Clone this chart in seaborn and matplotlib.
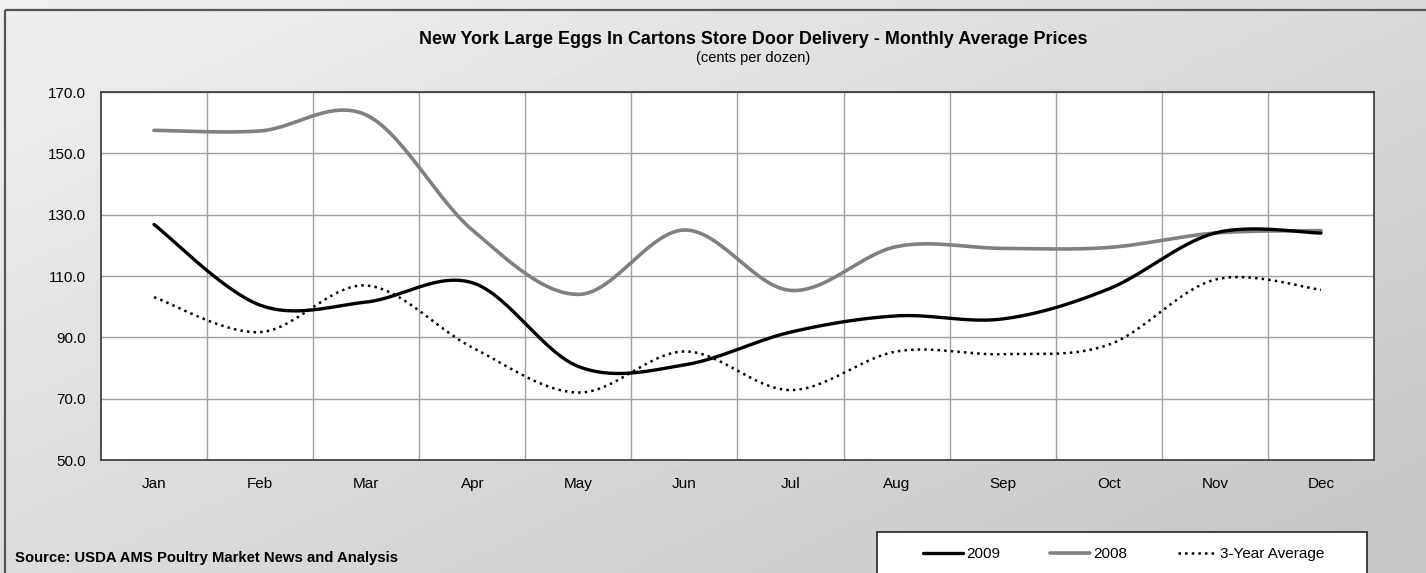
import numpy as np
import pandas as pd
import seaborn as sns
import matplotlib.pyplot as plt
from matplotlib.patches import Rectangle
from matplotlib.lines import Line2D

months = ['Jan', 'Feb', 'Mar', 'Apr', 'May', 'Jun', 'Jul', 'Aug', 'Sep', 'Oct', 'Nov', 'Dec']
y2009 = [126.8, 100.5, 101.5, 107.8, 80.5, 81.0, 91.7, 97.0, 96.0, 105.8, 124.0, 124.0]
y2008 = [157.5, 157.3, 162.5, 125.0, 104.0, 125.0, 105.3, 119.6, 119.0, 119.3, 124.0, 124.8]
avg3 = [103.1, 91.7, 106.9, 86.7, 72.0, 85.4, 72.8, 85.4, 84.5, 87.6, 108.8, 105.5]


def smooth(vals, n=30):
    # excel style smoothed line (catmull-rom bezier through every point)
    p = np.asarray(vals, dtype=float)
    x = np.arange(len(p), dtype=float)
    xs, ys = [], []
    for i in range(len(p) - 1):
        p0 = p[i - 1] if i > 0 else p[i]
        p3 = p[i + 2] if i + 2 < len(p) else p[i + 1]
        x0 = x[i - 1] if i > 0 else x[i]
        x3 = x[i + 2] if i + 2 < len(p) else x[i + 1]
        c1y = p[i] + (p[i + 1] - p0) / 6
        c2y = p[i + 1] - (p3 - p[i]) / 6
        c1x = x[i] + (x[i + 1] - x0) / 6
        c2x = x[i + 1] - (x3 - x[i]) / 6
        t = np.linspace(0, 1, n, endpoint=(i == len(p) - 2))
        b0, b1, b2, b3 = (1 - t) ** 3, 3 * t * (1 - t) ** 2, 3 * t ** 2 * (1 - t), t ** 3
        xs.append(b0 * x[i] + b1 * c1x + b2 * c2x + b3 * x[i + 1])
        ys.append(b0 * p[i] + b1 * c1y + b2 * c2y + b3 * p[i + 1])
    return np.concatenate(xs), np.concatenate(ys)


sns.set_style('white')
plt.rcParams['font.family'] = ['Liberation Sans', 'DejaVu Sans']
plt.rcParams['text.color'] = 'black'
plt.rcParams['xtick.color'] = 'black'
plt.rcParams['ytick.color'] = 'black'

fig = plt.figure(figsize=(14.26, 5.73), dpi=100)
W, H = 1426, 573

# gradient background
bg = fig.add_axes([0, 0, 1, 1], zorder=-10)
gx, gy = np.meshgrid(np.linspace(0, 1, 300), np.linspace(0, 1, 120))
shade = 0.94 - 0.09 * gx - 0.08 * gy
bg.imshow(shade, cmap='gray', vmin=0, vmax=1, aspect='auto', extent=[0, 1, 1, 0])
bg.set_xlim(0, 1)
bg.set_ylim(1, 0)
bg.axis('off')
bg.add_patch(Rectangle((5 / W, 10 / H), 1.2, 1.2, fill=False, edgecolor='#555555', linewidth=1.6))

ax = fig.add_axes([101 / W, (H - 460) / H, 1273 / W, 368 / H])
ax.set_facecolor('white')

for vals, color, lw, ls in [(y2008, '#808080', 2.6, '-'), (y2009, 'black', 2.4, '-'), (avg3, 'black', 1.8, ':')]:
    sx, sy = smooth(vals)
    df = pd.DataFrame({'x': sx, 'y': sy})
    sns.lineplot(data=df, x='x', y='y', ax=ax, color=color, linewidth=lw, linestyle=ls, sort=False)

ax.set_xlim(-0.5, 11.5)
ax.set_ylim(50, 170)
ax.set_xticks(range(12))
ax.set_xticklabels(months, fontsize=11)
ax.set_xticks(np.arange(0.5, 11, 1), minor=True)
ax.set_yticks(np.arange(50, 171, 20))
ax.set_yticklabels(['%0.1f' % v for v in np.arange(50, 171, 20)], fontsize=11)
ax.tick_params(axis='both', which='both', length=0)
ax.tick_params(axis='x', pad=12)
ax.tick_params(axis='y', pad=10.8)
ax.grid(True, which='minor', axis='x', color='#a0a0a0', linewidth=1)
ax.grid(True, which='major', axis='y', color='#a0a0a0', linewidth=1)
ax.set_axisbelow(True)
ax.set_xlabel('')
ax.set_ylabel('')
for s in ax.spines.values():
    s.set_visible(True)
    s.set_color('#333333')
    s.set_linewidth(1.2)

fig.text(753 / W, 1 - 40 / H, 'New York Large Eggs In Cartons Store Door Delivery - Monthly Average Prices',
         ha='center', va='center', fontsize=12.9, fontweight='bold')
fig.text(753 / W, 1 - 58 / H, '(cents per dozen)', ha='center', va='center', fontsize=10.5)
fig.text(15 / W, 1 - 558 / H, 'Source: USDA AMS Poultry Market News and Analysis',
         ha='left', va='center', fontsize=10.7, fontweight='bold')

# legend box (runs past the bottom edge)
bg.add_patch(Rectangle((877 / W, 532 / H), 490 / W, 0.2, facecolor='white', edgecolor='#222222', linewidth=1.2))
handles = [Line2D([], [], color='black', lw=2.4),
           Line2D([], [], color='#808080', lw=2.6),
           Line2D([], [], color='black', lw=1.8, ls=':')]
fig.legend(handles, ['2009', '2008', '3-Year Average'], loc='center', ncol=3,
           bbox_to_anchor=(1124 / W, 1 - 554 / H), frameon=False, fontsize=11,
           handlelength=2.6, handletextpad=0.2, columnspacing=3.3)

fig.savefig('out.png', dpi=100)
